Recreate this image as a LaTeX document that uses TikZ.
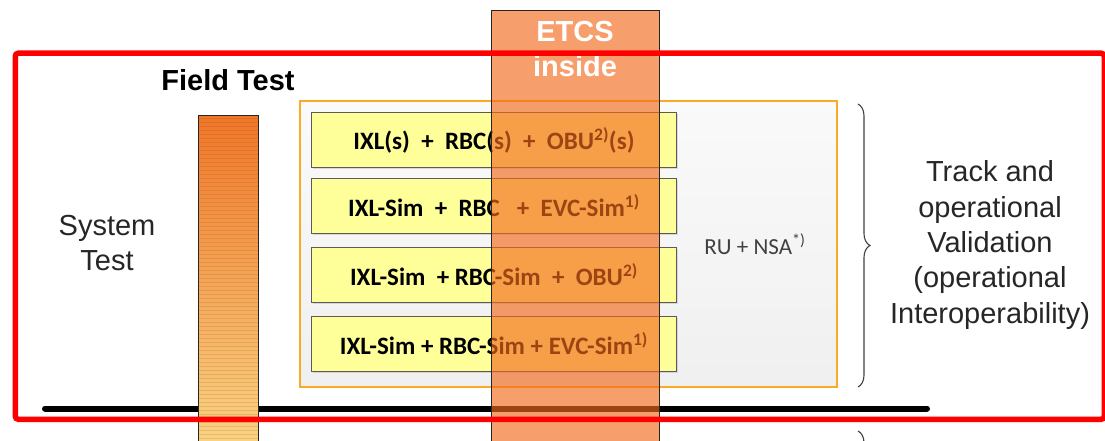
\documentclass[tikz,border=0pt]{standalone}
\usepackage{fontspec}
\setmainfont{Liberation Sans}
\newfontfamily\calfont{Carlito}
\usetikzlibrary{shadows,decorations.pathreplacing}

\definecolor{framered}{RGB}{255,0,0}
\definecolor{ftTop}{RGB}{240,118,40}
\definecolor{ftBot}{RGB}{250,220,140}
\definecolor{etcsorange}{RGB}{242,107,29}
\definecolor{valorange}{RGB}{250,170,35}
\definecolor{comboyellow}{RGB}{255,255,153}
\definecolor{combogray}{RGB}{90,90,90}

\tikzset{
  combo/.style={draw=combogray, line width=0.9pt, fill=comboyellow,
    minimum width=365pt, minimum height=55pt, anchor=north west, inner sep=0pt,
    font=\calfont\bfseries\fontsize{25}{28}\selectfont,
    drop shadow={shadow xshift=2pt, shadow yshift=-2pt, opacity=0.25}},
  bigtext/.style={align=center, font=\fontsize{29}{35.3}\selectfont, text=black!85},
  bracestyle/.style={draw=black!75, line width=1.1pt,
    decorate, decoration={brace, amplitude=12pt}},
}

\begin{document}
\begin{tikzpicture}[x=1pt, y=-1pt]
\useasboundingbox (0,0) rectangle (1105,441);
\clip (0,0) rectangle (1105,441);

% base line of the test levels
\coordinate (baseL) at (45,408.5);
\coordinate (baseR) at (927,408.5);
\draw[line width=6pt, line cap=round, black] (baseL) -- (baseR);

% field test bar with striped gradient
\node (ftbar) [anchor=north west, minimum width=60pt, minimum height=360pt,
  inner sep=0pt, top color=ftTop, bottom color=ftBot, shading angle=0,
  path picture={
    \foreach \k in {0,...,90}
      \draw[ftTop!60!black, opacity=0.16, line width=0.9pt]
        ([yshift=-3-4*\k]path picture bounding box.north west) --
        ([yshift=-3-4*\k]path picture bounding box.north east);
  }] at (198,115) {};
\draw[line width=0.9pt, black!85] (ftbar.south west) -- (ftbar.north west)
  -- (ftbar.north east) -- (ftbar.south east);
\node (ftlabel) [font=\bfseries\fontsize{29}{32}\selectfont] at (228,80) {Field Test};

% system test label
\node (syslabel) [bigtext] at (107,243) {System\\Test};

% validation frame with the configurations
\node (valbox) [anchor=north west, minimum width=537pt, minimum height=286pt,
  inner sep=0pt, draw=valorange, line width=2pt,
  top color=white!98!black, bottom color=white!94!black] at (299,100) {};

\node (c1) [combo] at (311,112) {IXL(s)\ \ +\ \ RBC(s)\ \ +\ \ OBU\textsuperscript{2)}(s)};
\node (c2) [combo] at (311,178) {IXL-Sim\ \ +\ \ RBC\ \ \ +\ \ EVC-Sim\textsuperscript{1)}};
\node (c3) [combo] at (311,247) {IXL-Sim\ \ + RBC-Sim\ \ +\ \ OBU\textsuperscript{2)}};
\node (c4) [combo] at (311,316) {IXL-Sim + RBC-Sim + EVC-Sim\textsuperscript{1)}};

\node (runsa) [font=\calfont\fontsize{23}{26}\selectfont, text=black!75]
  at (755,244) {RU + NSA\textsuperscript{*)}};

% braces on the right
\coordinate (brTop) at (858,104);
\coordinate (brBot) at (858,387);
\draw[bracestyle] (brTop) -- (brBot);
\coordinate (br2Top) at (858,431);
\coordinate (br2Bot) at (858,714);
\draw[bracestyle] (br2Top) -- (br2Bot);

\node (tracklabel) [bigtext] at (990,245)
  {Track and\\operational\\Validation\\(operational\\Interoperability)};

% ETCS column across all levels
\node (etcs) [anchor=north west, minimum width=168pt, minimum height=460pt,
  inner sep=0pt, fill=etcsorange, fill opacity=0.65, draw=black!85,
  line width=0.9pt] at (491,10) {};
\node (etcslabel) [align=center, text=white,
  font=\bfseries\fontsize{29}{35}\selectfont] at (575,49) {ETCS\\inside};

% highlight frame
\node (frame) [anchor=north west, minimum width=1089pt, minimum height=366pt,
  inner sep=0pt, draw=framered, line width=5.5pt, rounded corners=3pt]
  at (12.5,50.5) {};
\end{tikzpicture}
\end{document}
